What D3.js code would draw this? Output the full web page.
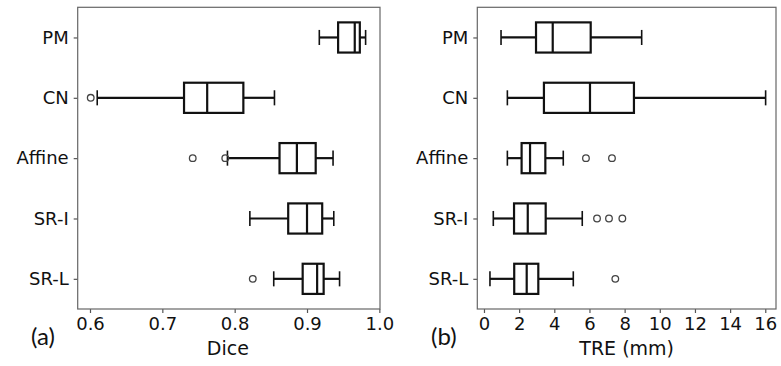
<!DOCTYPE html>
<html>
<head>
<meta charset="utf-8">
<script src="https://cdn.jsdelivr.net/npm/d3@7"></script>
<style>
html,body{margin:0;padding:0;background:#fff;}
svg{display:block;}
</style>
</head>
<body>
<svg id="chart" width="781" height="366"></svg>
<script>
const categories = ["PM", "CN", "Affine", "SR-I", "SR-L"];

const diceLow  = [0.917, 0.610, 0.790, 0.821, 0.854];
const diceQ1   = [0.943, 0.730, 0.862, 0.874, 0.894];
const diceMed  = [0.966, 0.762, 0.886, 0.900, 0.914];
const diceQ3   = [0.973, 0.812, 0.912, 0.921, 0.923];
const diceHigh = [0.981, 0.855, 0.936, 0.937, 0.945];
const diceOut  = [[], [0.601], [0.742, 0.787], [], [0.825]];
const diceTicks = [0.6, 0.7, 0.8, 0.9, 1.0];

const treLow  = [0.97, 1.33, 1.33, 0.53, 0.34];
const treQ1   = [2.96, 3.41, 2.14, 1.71, 1.72];
const treMed  = [3.91, 6.03, 2.62, 2.49, 2.43];
const treQ3   = [6.07, 8.53, 3.49, 3.51, 3.09];
const treHigh = [8.97, 16.02, 4.51, 5.59, 5.08];
const treOut  = [[], [], [5.80, 7.28], [6.43, 7.11, 7.87], [7.47]];
const treTicks = [0, 2, 4, 6, 8, 10, 12, 14, 16];

const svg = d3.select("#chart");
const tickFont = "'DejaVu Sans', sans-serif";

function panel(opt) {
  const g = svg.append("g");
  const x = d3.scaleLinear().domain(opt.domain).range([opt.left, opt.right]);
  const y = d3.scalePoint().domain(categories).range([opt.top, opt.bottom]).padding(0.5);
  const step = y.step();
  const bh = step * 0.5;

  const rows = categories.map((c, i) => ({
    c, lo: opt.lo[i], q1: opt.q1[i], med: opt.med[i], q3: opt.q3[i], hi: opt.hi[i], out: opt.out[i]
  }));

  const xa = g.append("g").attr("transform", `translate(0,${opt.bottom})`)
    .call(d3.axisBottom(x).tickValues(opt.ticks).tickSize(4).tickPadding(4)
      .tickFormat(opt.fmt));
  xa.select(".domain").remove();
  xa.selectAll(".tick line").attr("stroke", "#555").attr("stroke-width", 1.2);
  xa.selectAll(".tick text").attr("font-family", tickFont).attr("font-size", 18).attr("fill", "#111");

  const ya = g.append("g").attr("transform", `translate(${opt.left},0)`)
    .call(d3.axisLeft(y).tickSize(4).tickPadding(5));
  ya.select(".domain").remove();
  ya.selectAll(".tick line").attr("stroke", "#555").attr("stroke-width", 1.2);
  ya.selectAll(".tick text").attr("font-family", tickFont).attr("font-size", 18).attr("fill", "#111");

  g.append("rect").attr("x", opt.left).attr("y", opt.top)
    .attr("width", opt.right - opt.left).attr("height", opt.bottom - opt.top)
    .attr("fill", "none").attr("stroke", "#666").attr("stroke-width", 1.2);

  const bx = g.append("g").attr("stroke", "#111").attr("stroke-width", 2.2).attr("fill", "none");
  rows.forEach(r => {
    const cy = y(r.c);
    bx.append("line").attr("x1", x(r.lo)).attr("x2", x(r.q1)).attr("y1", cy).attr("y2", cy);
    bx.append("line").attr("x1", x(r.q3)).attr("x2", x(r.hi)).attr("y1", cy).attr("y2", cy);
    bx.append("line").attr("x1", x(r.lo)).attr("x2", x(r.lo)).attr("y1", cy - bh / 4).attr("y2", cy + bh / 4).attr("stroke-width", 1.6);
    bx.append("line").attr("x1", x(r.hi)).attr("x2", x(r.hi)).attr("y1", cy - bh / 4).attr("y2", cy + bh / 4).attr("stroke-width", 1.6);
    bx.append("rect").attr("x", x(r.q1)).attr("y", cy - bh / 2)
      .attr("width", x(r.q3) - x(r.q1)).attr("height", bh).attr("fill", "#fff");
    bx.append("line").attr("x1", x(r.med)).attr("x2", x(r.med)).attr("y1", cy - bh / 2).attr("y2", cy + bh / 2);
    r.out.forEach(v => {
      g.append("circle").attr("cx", x(v)).attr("cy", cy).attr("r", 3.3)
        .attr("fill", "none").attr("stroke", "#444").attr("stroke-width", 1.3);
    });
  });

  g.append("text").attr("x", (opt.left + opt.right) / 2 + opt.labelShift).attr("y", 355)
    .attr("text-anchor", "middle").attr("font-family", tickFont).attr("font-size", 19)
    .attr("fill", "#111").text(opt.xlabel);

  g.append("text").attr("x", opt.letterX).attr("y", 345)
    .attr("font-family", "Lato, 'Open Sans', sans-serif").attr("font-size", 24)
    .attr("fill", "#111").text(opt.letter);
}

panel({
  left: 77.7, right: 380, top: 7.3, bottom: 309,
  domain: [0.583, 1.0009],
  lo: diceLow, q1: diceQ1, med: diceMed, q3: diceQ3, hi: diceHigh, out: diceOut,
  ticks: diceTicks, fmt: d3.format(".1f"),
  xlabel: "Dice", labelShift: -1, letter: "(a)", letterX: 31
});

panel({
  left: 477.3, right: 776, top: 7.3, bottom: 309,
  domain: [-0.38, 16.61],
  lo: treLow, q1: treQ1, med: treMed, q3: treQ3, hi: treHigh, out: treOut,
  ticks: treTicks, fmt: d3.format("d"),
  xlabel: "TRE (mm)", labelShift: 0, letter: "(b)", letterX: 431
});
</script>
</body>
</html>
